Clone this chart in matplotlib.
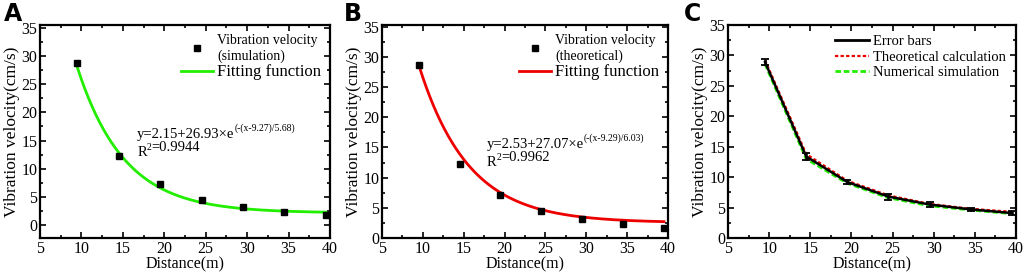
"""Vibration velocity vs distance: simulation, theory and comparison."""

import matplotlib

matplotlib.use("Agg")
import matplotlib.pyplot as plt
import numpy as np
from matplotlib.lines import Line2D
from matplotlib.ticker import MultipleLocator

plt.rcParams["font.family"] = ["Liberation Serif", "DejaVu Serif"]

# data
distance = [9.5, 14.5, 19.5, 24.5, 29.5, 34.5, 39.5]
vel_simulation = [28.7, 12.3, 7.3, 4.5, 3.2, 2.4, 1.7]
vel_theoretical = [28.6, 12.3, 7.2, 4.4, 3.1, 2.3, 1.6]

# fitted parameters printed on the panels: y0, A, xc, t
fit_sim = (2.15, 26.93, 9.27, 5.68)
fit_theo = (2.53, 27.07, 9.29, 6.03)
r2_sim = "0.9944"
r2_theo = "0.9962"

# panel C
c_theoretical = [29.2, 13.8, 9.4, 7.0, 5.6, 4.8, 4.3]
c_simulation = [28.6, 13.0, 9.0, 6.6, 5.3, 4.6, 4.0]
c_mean = [28.9, 13.4, 9.2, 6.8, 5.5, 4.7, 4.1]
c_err = [0.5, 0.6, 0.4, 0.5, 0.4, 0.3, 0.4]

W, H = 1024, 276


def px_axes(fig, left, top, right, bottom):
    return fig.add_axes([left / W, 1 - bottom / H, (right - left) / W, (bottom - top) / H])


def style(ax, ylim):
    ax.set_xlim(5, 40)
    ax.set_ylim(*ylim)
    ax.xaxis.set_major_locator(MultipleLocator(5))
    ax.xaxis.set_minor_locator(MultipleLocator(2.5))
    ax.yaxis.set_major_locator(MultipleLocator(5))
    ax.yaxis.set_minor_locator(MultipleLocator(2.5))
    ax.tick_params(which="both", direction="in", top=True, right=True,
                   labelsize=11.5, width=1.2, pad=2)
    ax.tick_params(which="major", length=4)
    ax.tick_params(which="minor", length=2)
    for s in ax.spines.values():
        s.set_linewidth(1.6)
    ax.set_xlabel("Distance(m)", fontsize=11.5, labelpad=0)
    ax.set_ylabel("Vibration velocity(cm/s)", fontsize=12.5, labelpad=1)


def fit_panel(ax, y, params, color, label, r2, pos):
    y0, a, xc, t = params
    xs = np.linspace(distance[0], distance[-1], 200)
    ax.plot(xs, y0 + a * np.exp(-(xs - xc) / t), color=color, lw=2, zorder=2)
    ax.plot(distance, y, "s", color="black", ms=5, zorder=3)
    handles = [Line2D([], [], ls="none", marker="s", color="black", ms=5),
               Line2D([], [], color=color, lw=2)]
    leg = ax.legend(handles, [f"Vibration velocity\n({label})", "Fitting function"],
                    loc="upper right", frameon=False, fontsize=10,
                    handlelength=2.3, handletextpad=0.3,
                    borderaxespad=0.25, labelspacing=0.1)
    leg.get_texts()[1].set_fontsize(12)
    tx, ty, ry = pos
    base = ax.text(tx, ty, f"y={y0:.2f}+{a:.2f}\u00d7e", transform=ax.transAxes,
                   fontsize=10.5, va="center")
    ax.annotate(f"(-(x-{xc:.2f})/{t:.2f})", xy=(1.0, 0.95), xycoords=base,
                fontsize=7, va="center", ha="left")
    r = ax.text(tx, ry, "R", transform=ax.transAxes, fontsize=10.5, va="center")
    sup = ax.annotate("2", xy=(1.0, 0.9), xycoords=r, fontsize=7,
                      va="center", ha="left")
    ax.annotate(f"={r2}", xy=(1.0, 0.5), xycoords=sup, fontsize=10.5,
                va="center", ha="left")


fig = plt.figure(figsize=(W / 100, H / 100), dpi=100)

ax_a = px_axes(fig, 40, 25, 330, 238)
style(ax_a, (-2.3, 35.5))
fit_panel(ax_a, vel_simulation, fit_sim, "#22ee00", "simulation", r2_sim,
          (0.335, 0.487, 0.402))

ax_b = px_axes(fig, 382, 25, 668, 238)
style(ax_b, (0, 35.3))
fit_panel(ax_b, vel_theoretical, fit_theo, "#ee0000", "theoretical", r2_theo,
          (0.367, 0.44, 0.355))

ax_c = px_axes(fig, 728, 25, 1016, 238)
style(ax_c, (0, 35))
ax_c.plot(distance, c_simulation, color="#22ee00", ls=(0, (2, 1)), lw=2, zorder=2)
ax_c.plot(distance, c_theoretical, color="#ee0000", ls=(0, (1.5, 1)), lw=1.6, zorder=3)
ax_c.errorbar(distance, c_mean, yerr=c_err, color="black", lw=1.8, capsize=3,
              capthick=1.3, zorder=4)
c_handles = [Line2D([], [], color="black", lw=2),
             Line2D([], [], color="#ee0000", ls=(0, (1.5, 1)), lw=1.6),
             Line2D([], [], color="#22ee00", ls=(0, (2, 1)), lw=2)]
ax_c.legend(c_handles, ["Error bars", "Theoretical calculation", "Numerical simulation"],
            loc="upper right", frameon=False, fontsize=10.5, handlelength=2.3,
            handletextpad=0.3, borderaxespad=0.3, labelspacing=0.15)

for x, letter in [(4, "A"), (344, "B"), (684, "C")]:
    fig.text(x / W, 1 - 2 / H, letter, fontsize=17, fontweight="bold",
             family="DejaVu Sans", va="top", ha="left")

fig.savefig("out.png", dpi=100)
